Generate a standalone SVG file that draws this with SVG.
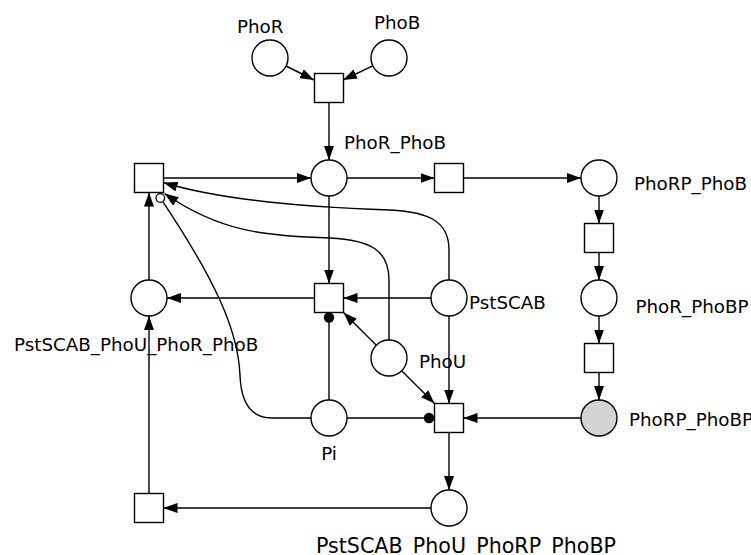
<svg xmlns="http://www.w3.org/2000/svg" width="751" height="555" viewBox="0 0 751 555">
<style>
.p{fill:#fff;stroke:#000;stroke-width:1.4}
.g{fill:#d3d3d3;stroke:#000;stroke-width:1.4}
.t{fill:#fff;stroke:#000;stroke-width:1.4}
.e{fill:none;stroke:#000;stroke-width:1.4}
.a{marker-end:url(#arr)}
.dot{fill:#000;stroke:none}
.inh{fill:#fff;stroke:#000;stroke-width:1.3}
text{font-family:"DejaVu Sans","Liberation Sans",sans-serif;font-size:18.3px;fill:#000}
</style>
<defs>
<marker id="arr" markerUnits="userSpaceOnUse" markerWidth="14" markerHeight="10" refX="14" refY="5" orient="auto">
<path d="M0,0 L14,5 L0,10 z" fill="#000"/>
</marker>
</defs>
<rect width="751" height="555" fill="#fff"/>
<g id="connectors">
<path class="e a" d="M286.1,66 L314,80"/>
<path class="e a" d="M372.8,65.8 L343,80"/>
<path class="e a" d="M329,102.5 L329,160"/>
<path class="e a" d="M163.5,178 L311,178"/>
<path class="e a" d="M347,178 L434.5,178"/>
<path class="e a" d="M463.5,178 L581,178"/>
<path class="e a" d="M599,196 L599,223.5"/>
<path class="e a" d="M599,252.5 L599,280"/>
<path class="e a" d="M599,316 L599,343.5"/>
<path class="e a" d="M599,372.5 L599,400"/>
<path class="e a" d="M581,418 L463.5,418"/>
<path class="e a" d="M449,432.5 L449,490"/>
<path class="e a" d="M431,508 L163.5,508"/>
<path class="e a" d="M149,493.5 L149,316"/>
<path class="e a" d="M149,280 L149,192.5"/>
<path class="e a" d="M329,196 L329,283.5"/>
<path class="e a" d="M431,298 L343.5,298"/>
<path class="e a" d="M314.5,298 L167,298"/>
<path class="e a" d="M376.3,345.3 L343.5,312.5"/>
<path class="e a" d="M401.7,370.7 L434.5,403.5"/>
<path class="e a" d="M449,316 L449,403.5"/>
<path class="e" d="M329,400 L329,322"/>
<circle class="dot" cx="329" cy="317.5" r="5.2"/>
<path class="e" d="M347,418 L424,418"/>
<circle class="dot" cx="429" cy="418" r="5.2"/>
<path class="e a" d="M449,280 L449,250 C449,222 430,212 390,210 C300,207 220,200 163.5,182.5"/>
<path class="e a" d="M389,340 L389,280 C389,250 370,240 330,238 C265,236 220,232 164.5,193.5"/>
<path class="e" d="M311,418 L272,418 C252,418 241,405 240,375 C238,330 215,280 162.8,201.6"/>
<circle class="inh" cx="160.3" cy="198" r="4.3"/>
</g>
<g id="PhoR"><circle class="p" cx="270" cy="58" r="18"/><text x="237" y="33">PhoR</text></g>
<g id="PhoB"><circle class="p" cx="389" cy="58" r="18"/><text x="374" y="29">PhoB</text></g>
<g id="PhoR_PhoB"><circle class="p" cx="329" cy="178" r="18"/><text x="344" y="149">PhoR_PhoB</text></g>
<g id="PhoRP_PhoB"><circle class="p" cx="599" cy="178" r="18"/><text x="634" y="189.5">PhoRP_PhoB</text></g>
<g id="PstSCAB_PhoU_PhoR_PhoB"><circle class="p" cx="149" cy="298" r="18"/><text x="14" y="351">PstSCAB_PhoU_PhoR_PhoB</text></g>
<g id="PstSCAB"><circle class="p" cx="449" cy="298" r="18"/><text x="469" y="309">PstSCAB</text></g>
<g id="PhoR_PhoBP"><circle class="p" cx="599" cy="298" r="18"/><text x="635.5" y="312.5">PhoR_PhoBP</text></g>
<g id="PhoU"><circle class="p" cx="389" cy="358" r="18"/><text x="419" y="368">PhoU</text></g>
<g id="Pi"><circle class="p" cx="329" cy="418" r="18"/><text x="329" y="460" text-anchor="middle">Pi</text></g>
<g id="PhoRP_PhoBP"><circle class="g" cx="599" cy="418" r="18"/><text x="629" y="426">PhoRP_PhoBP</text></g>
<g id="PstSCAB_PhoU_PhoRP_PhoBP"><circle class="p" cx="449" cy="508" r="18"/><text x="316" y="553" style="font-size:20.6px">PstSCAB_PhoU_PhoRP_PhoBP</text></g>
<g id="T1"><rect class="t" x="314.5" y="73.5" width="29" height="29"/></g>
<g id="T2"><rect class="t" x="134.5" y="163.5" width="29" height="29"/></g>
<g id="T3"><rect class="t" x="434.5" y="163.5" width="29" height="29"/></g>
<g id="T4"><rect class="t" x="584.5" y="223.5" width="29" height="29"/></g>
<g id="T5"><rect class="t" x="314.5" y="283.5" width="29" height="29"/></g>
<g id="T6"><rect class="t" x="584.5" y="343.5" width="29" height="29"/></g>
<g id="T7"><rect class="t" x="434.5" y="403.5" width="29" height="29"/></g>
<g id="T8"><rect class="t" x="134.5" y="493.5" width="29" height="29"/></g>
</svg>
